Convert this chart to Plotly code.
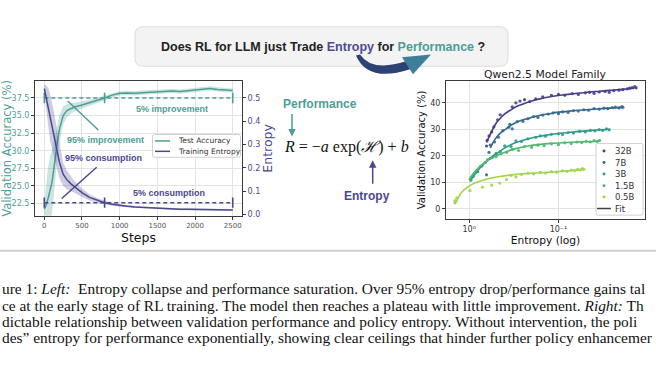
import plotly.graph_objects as go

W, H = 656, 369

# ---------------- data: left panel ----------------
steps = [0, 25, 50, 75, 100, 125, 150, 175, 200, 250, 300, 350, 400, 500, 600, 700, 800,
         900, 1000, 1100, 1200, 1300, 1400, 1500, 1600, 1700, 1800, 1900, 2000, 2100,
         2200, 2300, 2400, 2500]
test_acc = [21.7, 22.3, 23.2, 24.2, 25.4, 27.3, 29.6, 31.4, 33.0, 35.0, 35.7, 36.0, 36.2,
            36.5, 36.8, 37.15, 37.5, 37.9, 38.15, 38.2, 38.15, 38.25, 38.3, 38.35, 38.45,
            38.5, 38.4, 38.5, 38.55, 38.65, 38.85, 38.7, 38.6, 38.55]
test_acc_band = [1.0, 3.0, 4.5, 5.0, 4.5, 3.8, 3.0, 2.4, 2.0, 1.3, 0.9, 0.75, 0.6, 0.5,
                 0.45, 0.4, 0.35, 0.35, 0.3, 0.3, 0.3, 0.3, 0.3, 0.3, 0.3, 0.3, 0.3, 0.3,
                 0.3, 0.3, 0.3, 0.3, 0.3, 0.3]
entropy = [0.54, 0.50, 0.465, 0.42, 0.385, 0.35, 0.31, 0.275, 0.225, 0.172, 0.148, 0.132,
           0.118, 0.093, 0.073, 0.060, 0.050, 0.043, 0.038, 0.035, 0.032, 0.030, 0.028,
           0.026, 0.024, 0.023, 0.022, 0.0215, 0.021, 0.0205, 0.020, 0.0195, 0.019, 0.019]
entropy_band = [0.02, 0.05, 0.08, 0.10, 0.10, 0.095, 0.09, 0.08, 0.07, 0.05, 0.04, 0.032,
                0.025, 0.018, 0.013, 0.01, 0.008, 0.006, 0.005, 0.004, 0.004, 0.004, 0.004,
                0.004, 0.004, 0.004, 0.004, 0.004, 0.004, 0.004, 0.004, 0.004, 0.004, 0.004]
milestones = [0, 800, 2500]
acc_level = 37.5
ent_level = 0.05

# ---------------- data: right panel ----------------
models = ["32B", "7B", "3B", "1.5B", "0.5B"]
pts_h = {
    "32B": [0.64, 0.63, 0.60, 0.56, 0.53, 0.48, 0.45, 0.33, 0.30, 0.27, 0.24, 0.21, 0.18, 0.15,
            0.12, 0.10, 0.085, 0.07, 0.06, 0.05, 0.045, 0.04, 0.035, 0.03, 0.027, 0.024, 0.021,
            0.019, 0.017, 0.016, 0.015, 0.014, 0.0135],
    "7B": [0.64, 0.60, 0.58, 0.52, 0.47, 0.42, 0.36, 0.35, 0.33, 0.29, 0.25, 0.22, 0.19, 0.17,
           0.15, 0.13, 0.115, 0.10, 0.09, 0.078, 0.068, 0.06, 0.052, 0.046, 0.04, 0.035, 0.031,
           0.028, 0.025, 0.023, 0.021, 0.0195, 0.019],
    "3B": [0.96, 0.94, 0.90, 0.80, 0.72, 0.62, 0.55, 0.50, 0.45, 0.40, 0.34, 0.30, 0.26, 0.22,
           0.18, 0.16, 0.14, 0.12, 0.10, 0.09, 0.078, 0.068, 0.058, 0.05, 0.044, 0.039, 0.035,
           0.032, 0.029, 0.027],
    "1.5B": [0.98, 0.93, 0.85, 0.75, 0.66, 0.58, 0.50, 0.44, 0.38, 0.33, 0.28, 0.24, 0.20, 0.17,
             0.145, 0.12, 0.10, 0.085, 0.072, 0.062, 0.055, 0.049, 0.044, 0.04, 0.037, 0.0347],
    "0.5B": [1.45, 1.44, 1.38, 0.98, 0.71, 0.56, 0.454, 0.382, 0.34, 0.30, 0.26, 0.22, 0.19,
             0.16, 0.14, 0.12, 0.105, 0.09, 0.08, 0.072, 0.066, 0.061, 0.057, 0.054, 0.052],
}
pts_acc = {
    "32B": [23.7, 25.8, 27.5, 29.0, 30.9, 33.6, 35.5, 38.5, 40.0, 40.7, 41.2, 40.5, 41.5, 42.3,
            42.8, 43.2, 42.9, 43.5, 43.2, 43.8, 44.0, 43.6, 44.1, 44.3, 44.0, 44.6, 44.8, 45.0,
            45.3, 45.6, 45.8, 46.1, 45.7],
    "7B": [12.8, 21.3, 24.0, 25.2, 27.0, 29.5, 30.8, 31.9, 30.2, 32.9, 33.0, 34.0, 34.8, 34.5,
           35.4, 35.8, 36.2, 35.9, 36.6, 36.4, 37.1, 36.9, 37.4, 37.2, 37.8, 37.6, 38.0, 37.8,
           38.2, 38.4, 38.1, 38.6, 38.3],
    "3B": [10.8, 11.9, 12.3, 14.0, 16.2, 18.5, 19.4, 20.9, 21.6, 23.8, 23.5, 25.6, 25.4, 26.4,
           27.0, 27.5, 27.4, 28.1, 28.3, 28.0, 28.8, 28.6, 29.2, 29.0, 29.6, 29.4, 29.9, 29.6,
           30.2, 29.8],
    "1.5B": [11.2, 12.0, 13.6, 15.9, 17.5, 19.0, 19.7, 20.8, 21.3, 22.4, 22.0, 23.5, 23.2, 24.0,
             23.8, 24.5, 24.2, 24.9, 24.6, 25.2, 25.0, 25.5, 25.2, 25.7, 25.4, 25.8],
    "0.5B": [2.3, 3.1, 4.1, 6.8, 8.1, 8.9, 9.7, 11.0, 12.6, 12.0, 13.0, 13.4, 13.2, 13.7, 13.5,
             14.0, 13.8, 14.3, 14.1, 14.6, 14.4, 14.9, 14.7, 15.2, 14.9],
}
fit_h = {
    "32B": [0.64, 0.58, 0.54, 0.50, 0.454, 0.40, 0.351, 0.30, 0.249, 0.20, 0.162, 0.125, 0.097,
            0.075, 0.058, 0.045, 0.0347, 0.027, 0.0207, 0.0141],
    "7B": [0.58, 0.52, 0.454, 0.382, 0.322, 0.26, 0.21, 0.16, 0.125, 0.105, 0.0688, 0.0448,
           0.0377, 0.028, 0.019],
    "3B": [0.95, 0.85, 0.75, 0.64, 0.55, 0.47, 0.417, 0.35, 0.295, 0.249, 0.19, 0.137, 0.10,
           0.0688, 0.045, 0.0267],
    "1.5B": [0.97, 0.85, 0.73, 0.60, 0.474, 0.38, 0.295, 0.22, 0.162, 0.12, 0.0816, 0.055,
             0.0347],
    "0.5B": [1.445, 1.35, 1.27, 1.17, 1.07, 0.92, 0.76, 0.60, 0.454, 0.35, 0.249, 0.18, 0.125,
             0.085, 0.058, 0.053],
}
fit_acc = {
    "32B": [25.0, 28.2, 30.3, 32.3, 34.0, 35.8, 37.1, 38.5, 39.6, 40.7, 41.5, 42.3, 42.9, 43.3,
            43.7, 44.1, 44.4, 44.7, 45.0, 45.5],
    "7B": [23.0, 26.0, 28.4, 30.3, 32.0, 33.4, 34.3, 35.3, 35.9, 36.4, 37.0, 37.5, 37.7, 38.0,
           38.3],
    "3B": [11.0, 13.3, 15.6, 17.9, 19.8, 21.3, 22.6, 24.0, 25.1, 25.9, 26.9, 27.8, 28.4, 29.0,
           29.5, 30.0],
    "1.5B": [11.8, 14.3, 16.5, 18.6, 20.3, 21.6, 22.8, 23.7, 24.3, 24.7, 25.0, 25.3, 25.5],
    "0.5B": [1.6, 3.6, 5.3, 6.8, 7.9, 9.3, 10.4, 11.4, 12.2, 12.7, 13.2, 13.5, 13.8, 14.2, 14.6,
             14.8],
}
model_colors = {"32B": "#443f87", "7B": "#35698f", "3B": "#2c9c89", "1.5B": "#50b86c",
                "0.5B": "#a0d44a"}

TEAL = "#4d9e94"
PURPLE = "#4a4891"
TEAL_FILL = "rgba(77,158,148,0.28)"
PURPLE_FILL = "rgba(74,72,145,0.28)"
GRID = "#e3e3e3"
FRAME = "#3a3a3a"
FONT = "DejaVu Sans"


def P(x, y):
    return f"{x / W:.5f},{1 - y / H:.5f}"


def rrect(x0, y0, x1, y1, r):
    return (f"M {P(x0 + r, y0)} L {P(x1 - r, y0)} Q {P(x1, y0)} {P(x1, y0 + r)} "
            f"L {P(x1, y1 - r)} Q {P(x1, y1)} {P(x1 - r, y1)} L {P(x0 + r, y1)} "
            f"Q {P(x0, y1)} {P(x0, y1 - r)} L {P(x0, y0 + r)} Q {P(x0, y0)} {P(x0 + r, y0)} Z")


fig = go.Figure()

# ---- left panel traces ----
fig.add_trace(go.Scatter(x=steps, y=[a + b for a, b in zip(test_acc, test_acc_band)],
                         mode="lines", line=dict(width=0), hoverinfo="skip", showlegend=False,
                         xaxis="x", yaxis="y"))
fig.add_trace(go.Scatter(x=steps, y=[a - b for a, b in zip(test_acc, test_acc_band)],
                         mode="lines", line=dict(width=0), fill="tonexty", fillcolor=TEAL_FILL,
                         hoverinfo="skip", showlegend=False, xaxis="x", yaxis="y"))
fig.add_trace(go.Scatter(x=steps, y=test_acc, mode="lines", line=dict(color=TEAL, width=1.5),
                         name="Test Accuracy", showlegend=False, xaxis="x", yaxis="y"))
fig.add_trace(go.Scatter(x=milestones, y=[acc_level] * len(milestones), mode="lines",
                         line=dict(color=TEAL, width=1.5, dash="4px,3px"),
                         error_y=dict(type="constant", value=0.75, width=0, thickness=1.6,
                                      color=TEAL),
                         showlegend=False, xaxis="x", yaxis="y"))

fig.add_trace(go.Scatter(x=steps, y=[a + b for a, b in zip(entropy, entropy_band)],
                         mode="lines", line=dict(width=0), hoverinfo="skip", showlegend=False,
                         xaxis="x", yaxis="y2"))
fig.add_trace(go.Scatter(x=steps, y=[max(a - b, 0.0) for a, b in zip(entropy, entropy_band)],
                         mode="lines", line=dict(width=0), fill="tonexty",
                         fillcolor=PURPLE_FILL, hoverinfo="skip", showlegend=False,
                         xaxis="x", yaxis="y2"))
fig.add_trace(go.Scatter(x=steps, y=entropy, mode="lines", line=dict(color=PURPLE, width=1.5),
                         name="Training Entropy", showlegend=False, xaxis="x", yaxis="y2"))
fig.add_trace(go.Scatter(x=milestones, y=[ent_level] * len(milestones), mode="lines",
                         line=dict(color=PURPLE, width=1.5, dash="4px,3px"),
                         error_y=dict(type="constant", value=0.022, width=0, thickness=1.6,
                                      color=PURPLE),
                         showlegend=False, xaxis="x", yaxis="y2"))

# ---- right panel traces ----
for m in models:
    fig.add_trace(go.Scatter(x=pts_h[m], y=pts_acc[m], mode="markers",
                             marker=dict(color=model_colors[m], size=3.2, opacity=0.9),
                             name=m, showlegend=False, xaxis="x3", yaxis="y3"))
for m in models:
    fig.add_trace(go.Scatter(x=fit_h[m], y=fit_acc[m], mode="lines",
                             line=dict(color=model_colors[m], width=1.6, shape="spline"),
                             showlegend=False, xaxis="x3", yaxis="y3"))

shapes = []
annotations = []

# top question box
shapes.append(dict(type="path", xref="paper", yref="paper", path=rrect(135, 27, 508, 67, 8),
                   fillcolor="#f4f3f4", line=dict(color="#dddddd", width=1), layer="below"))
annotations.append(dict(xref="paper", yref="paper", x=323 / W, y=1 - 48 / H, showarrow=False,
                        xanchor="center", yanchor="middle",
                        text=("<b>Does RL for LLM just Trade <span style='color:#4b4a93'>Entropy"
                              "</span> for <span style='color:#4a9e94'>Performance</span> ?</b>"),
                        font=dict(family="Liberation Sans", size=12.5, color="#222222")))
# curved arrow
shapes.append(dict(type="path", xref="paper", yref="paper",
                   path=f"M {P(356, 56)} Q {P(368, 84)} {P(410, 70)} L {P(406, 62)} "
                        f"Q {P(372, 73)} {P(360, 55)} Z",
                   fillcolor="#2c4274", line=dict(width=0)))
shapes.append(dict(type="path", xref="paper", yref="paper",
                   path=f"M {P(402, 58)} L {P(413, 75)} L {P(431, 55)} Z",
                   fillcolor="#3c7f98", line=dict(width=0)))

# separator line above caption
shapes.append(dict(type="line", xref="paper", yref="paper", x0=0, x1=1, y0=1 - 253.5 / H,
                   y1=1 - 253.5 / H, line=dict(color="#d2d2d2", width=2)))

# pointer lines in left panel
shapes.append(dict(type="line", xref="x", yref="y", x0=310, y0=37.06, x1=717, y1=32.95,
                   line=dict(color=TEAL, width=1.5)))
shapes.append(dict(type="line", xref="x", yref="y", x0=231, y0=23.2, x1=695, y1=27.65,
                   line=dict(color=PURPLE, width=1.5)))

for txt, sx, ay, col in [("5% improvement", 1690, 35.98, TEAL),
                         ("95% improvement", 812, 31.45, TEAL),
                         ("95% consumption", 792, 28.9, PURPLE),
                         ("5% consumption", 1661, 24.0, PURPLE)]:
    annotations.append(dict(xref="x", yref="y", x=sx, y=ay, text=f"<b>{txt}</b>",
                            showarrow=False, xanchor="center", yanchor="middle",
                            font=dict(family="Liberation Sans", size=9, color=col)))

# left legend (drawn)
shapes.append(dict(type="path", xref="paper", yref="paper", path=rrect(152.5, 136, 240.5, 159, 2),
                   fillcolor="rgba(255,255,255,0.85)", line=dict(color="#d0d0d0", width=1)))
for yy, col, lab in [(142.5, TEAL, "Test Accuracy"), (153, PURPLE, "Training Entropy")]:
    shapes.append(dict(type="line", xref="paper", yref="paper", x0=155 / W, x1=170 / W,
                       y0=1 - yy / H, y1=1 - yy / H, line=dict(color=col, width=1.5)))
    annotations.append(dict(xref="paper", yref="paper", x=175.5 / W, y=1 - yy / H, text=lab,
                            showarrow=False, xanchor="left", yanchor="middle",
                            font=dict(family=FONT, size=7.5, color="#333333")))

# right legend (drawn)
shapes.append(dict(type="path", xref="paper", yref="paper", path=rrect(596, 145, 643, 217.5, 2),
                   fillcolor="rgba(255,255,255,0.85)", line=dict(color="#d0d0d0", width=1)))
leg_rows = [152.7, 164.3, 176, 187.7, 199.2]
for m, yy in zip(models, leg_rows):
    shapes.append(dict(type="circle", xref="paper", yref="paper", x0=602.5 / W, x1=605.5 / W,
                       y0=1 - (yy + 1.5) / H, y1=1 - (yy - 1.5) / H,
                       fillcolor=model_colors[m], line=dict(width=0)))
    annotations.append(dict(xref="paper", yref="paper", x=612.5 / W, y=1 - yy / H, text=m,
                            showarrow=False, xanchor="left", yanchor="middle",
                            font=dict(family=FONT, size=8.5, color="#333333")))
shapes.append(dict(type="line", xref="paper", yref="paper", x0=597 / W, x1=611 / W,
                   y0=1 - 210.8 / H, y1=1 - 210.8 / H, line=dict(color="#444444", width=1.5)))
annotations.append(dict(xref="paper", yref="paper", x=612.5 / W, y=1 - 210.8 / H, text="Fit",
                        showarrow=False, xanchor="left", yanchor="middle",
                        font=dict(family=FONT, size=8.5, color="#333333")))

# right title
annotations.append(dict(xref="paper", yref="paper", x=545.5 / W, y=1 - 75 / H,
                        text="Qwen2.5 Model Family", showarrow=False, xanchor="center",
                        yanchor="middle", font=dict(family=FONT, size=10.8, color="#222222")))

# middle formula block
annotations.append(dict(xref="paper", yref="paper", x=320 / W, y=1 - 105 / H,
                        text="<b>Performance</b>", showarrow=False, xanchor="center",
                        yanchor="middle", font=dict(family="Liberation Sans", size=12, color=TEAL)))
annotations.append(dict(xref="paper", yref="paper", x=292 / W, y=1 - 138 / H, text="",
                        showarrow=True, ax=0, ay=-24, arrowcolor=TEAL, arrowwidth=1.5,
                        arrowhead=2, arrowsize=1))
annotations.append(dict(xref="paper", yref="paper", x=346 / W, y=1 - 149 / H,
                        text="<i>R</i> = −<i>a</i> exp(<i>ℋ</i>) + <i>b</i>", showarrow=False,
                        xanchor="center", yanchor="middle",
                        font=dict(family="Liberation Serif", size=16, color="#111111")))
annotations.append(dict(xref="paper", yref="paper", x=372.7 / W, y=1 - 162 / H, text="",
                        showarrow=True, ax=0, ay=25, arrowcolor=PURPLE, arrowwidth=1.5,
                        arrowhead=2, arrowsize=1))
annotations.append(dict(xref="paper", yref="paper", x=367 / W, y=1 - 198 / H,
                        text="<b>Entropy</b>", showarrow=False, xanchor="center",
                        yanchor="middle", font=dict(family="Liberation Sans", size=12, color=PURPLE)))

# caption
caption = [
    "ure 1: <i>Left:</i>  Entropy collapse and performance saturation. Over 95% entropy drop/performance gains tal",
    "ce at the early stage of RL training. The model then reaches a plateau with little improvement. <i>Right:</i> Th",
    "dictable relationship between validation performance and policy entropy. Without intervention, the poli",
    "des” entropy for performance exponentially, showing clear ceilings that hinder further policy enhancemer",
]
for line, yy in zip(caption, [292, 308.5, 325, 341.5]):
    annotations.append(dict(xref="paper", yref="paper", x=0, y=1 - yy / H, text=line,
                            showarrow=False, xanchor="left", yanchor="middle",
                            font=dict(family="Liberation Serif", size=15.4, color="#111111")))

axis_common = dict(showgrid=True, gridcolor=GRID, gridwidth=1, showline=True, linecolor=FRAME,
                   linewidth=1, mirror=True, ticks="outside", ticklen=3, tickcolor=FRAME,
                   zeroline=False)

fig.update_layout(
    width=W, height=H, margin=dict(l=0, r=0, t=0, b=0), paper_bgcolor="white",
    plot_bgcolor="white", font=dict(family=FONT, size=8, color="#333333"),
    showlegend=False, shapes=shapes, annotations=annotations,
    xaxis=dict(domain=[35 / W, 242 / W], range=[-123.4, 2623], anchor="y",
               tickvals=[0, 500, 1000, 1500, 2000, 2500],
               tickfont=dict(size=7, color="#555555"),
               title=dict(text="Steps", font=dict(size=12.5, color="#111111"), standoff=1),
               **axis_common),
    yaxis=dict(domain=[1 - 218 / H, 1 - 82 / H], range=[20.77, 39.89], anchor="x",
               tickvals=[22.5, 25, 27.5, 30, 32.5, 35, 37.5],
               ticktext=["22.5", "25.0", "27.5", "30.0", "32.5", "35.0", "37.5"],
               tickfont=dict(size=8, color=TEAL),
               title=dict(text="Validation Accuracy (%)", font=dict(size=11.5, color=TEAL),
                          standoff=3),
               **axis_common),
    yaxis2=dict(overlaying="y", side="right", anchor="x", range=[-0.0055, 0.572],
                tickvals=[0, 0.1, 0.2, 0.3, 0.4, 0.5],
                ticktext=["0.0", "0.1", "0.2", "0.3", "0.4", "0.5"],
                tickfont=dict(size=8, color=PURPLE), showgrid=False, zeroline=False,
                ticks="outside", ticklen=3, tickcolor=FRAME, showline=False,
                title=dict(text="Entropy", font=dict(size=12.5, color=PURPLE), standoff=3)),
    xaxis3=dict(domain=[446 / W, 645 / W], type="log", range=[0.26, -1.969], anchor="y3",
                tickvals=[1, 0.1], ticktext=["10⁰", "10⁻¹"],
                tickfont=dict(size=8, color="#333333"),
                title=dict(text="Entropy (log)", font=dict(size=10.7, color="#111111"),
                           standoff=1),
                **axis_common),
    yaxis3=dict(domain=[1 - 221 / H, 1 - 82 / H], range=[-3.74, 48.22], anchor="x3",
                tickvals=[0, 10, 20, 30, 40], tickfont=dict(size=8, color="#333333"),
                title=dict(text="Validation Accuracy (%)", font=dict(size=10, color="#111111"),
                           standoff=2),
                **axis_common),
)

fig.write_html("out.html", config={"displayModeBar": False},
               post_script="document.body.style.margin='0px';document.body.style.overflow='hidden';")
